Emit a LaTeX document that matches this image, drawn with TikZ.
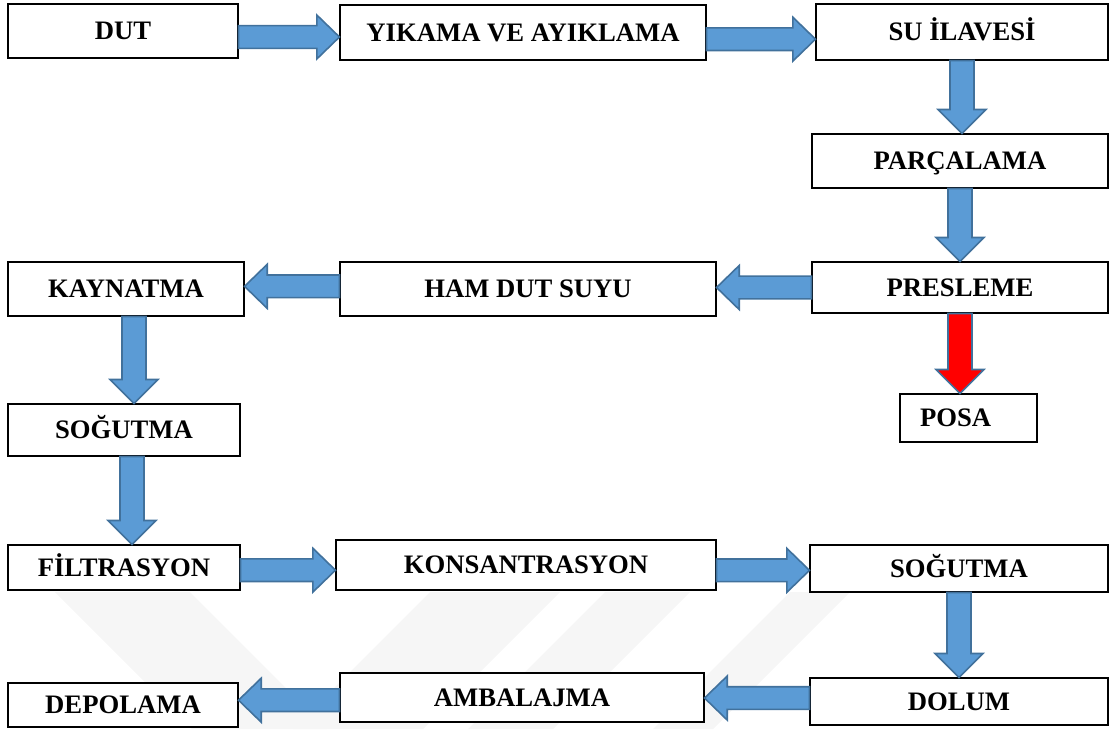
\documentclass[tikz,border=0pt]{standalone}
\usepackage{fontspec}
\setmainfont{Liberation Serif}
\usepackage{tikz}
\usetikzlibrary{calc}

\definecolor{arrowfill}{HTML}{5B9BD5}
\definecolor{arrowline}{HTML}{41719C}

\tikzset{
	stepbox/.style={draw=black, line width=0.8pt, fill=white, font=\bfseries\fontsize{20}{24}\selectfont,
		text height=13.3pt, text depth=0pt, inner sep=2pt},
	barrow/.style={fill=arrowfill, draw=arrowline, line width=1.2pt, line join=miter},
	wmark/.style={fill=black!3.5, draw=none}
}

% horizontal block arrow, y taken from the first point
\newcommand{\harrow}[3][]{%
	\draw[barrow,#1] let \p1=(#2), \p2=(#3), \n1={sign(\x2-\x1)} in
		(\x1,\y1+8.5pt) -- (\x2-\n1*17pt,\y1+8.5pt) -- (\x2-\n1*17pt,\y1+16.5pt) -- (\x2,\y1)
		-- (\x2-\n1*17pt,\y1-16.5pt) -- (\x2-\n1*17pt,\y1-8.5pt) -- (\x1,\y1-8.5pt) -- cycle;}
% vertical block arrow, x taken from the first point
\newcommand{\varrow}[3][]{%
	\draw[barrow,#1] let \p1=(#2), \p2=(#3), \n1={sign(\y2-\y1)} in
		(\x1+9pt,\y1) -- (\x1+9pt,\y2-\n1*18pt) -- (\x1+18pt,\y2-\n1*18pt) -- (\x1,\y2)
		-- (\x1-18pt,\y2-\n1*18pt) -- (\x1-9pt,\y2-\n1*18pt) -- (\x1-9pt,\y1) -- cycle;}

\begin{document}
\begin{tikzpicture}[x=0.75pt, y=-0.75pt]
			\useasboundingbox (0,0) rectangle (1110,729);
			
			% faint watermark
			\fill[wmark] (55,592) -- (190,592) -- (327,729) -- (192,729) -- cycle;
			\fill[wmark] (430,592) -- (560,592) -- (423,729) -- (293,729) -- cycle;
			\fill[wmark] (605,592) -- (690,592) -- (553,729) -- (468,729) -- cycle;
			\fill[wmark] (790,592) -- (850,592) -- (713,729) -- (653,729) -- cycle;
			
			\node[stepbox, minimum width=172.5pt, minimum height=40.5pt] (dut) at (123,31) {DUT};
			\node[stepbox, minimum width=274.5pt, minimum height=41.25pt] (yik) at (523,32.5) {YIKAMA VE AYIKLAMA};
			\node[stepbox, minimum width=219pt, minimum height=42pt] (su) at (962,32) {SU İLAVESİ};
			\node[stepbox, minimum width=222pt, minimum height=40.5pt] (parc) at (960,161) {PARÇALAMA};
			\node[stepbox, minimum width=222pt, minimum height=38.25pt] (pres) at (960,287.5) {PRESLEME};
			\node[stepbox, minimum width=282pt, minimum height=40.5pt] (ham) at (528,289) {HAM DUT SUYU};
			\node[stepbox, minimum width=177pt, minimum height=40.5pt] (kayn) at (126,289) {KAYNATMA};
			\node[stepbox, minimum width=174pt, minimum height=39pt] (sog1) at (124,430) {SOĞUTMA};
			\node[stepbox, minimum width=102.75pt, minimum height=36pt, inner xsep=15pt,
				text width=72.75pt, align=left] (posa) at (968.5,418) {POSA};
			
			\node[stepbox, minimum width=174pt, minimum height=33.75pt] (filt) at (124,567.5) {FİLTRASYON};
			\node[stepbox, minimum width=285pt, minimum height=37.5pt] (kons) at (526,565) {KONSANTRASYON};
			\node[stepbox, minimum width=223.5pt, minimum height=35.25pt] (sog2) at (959,568.5) {SOĞUTMA};
			\node[stepbox, minimum width=172.5pt, minimum height=33pt] (depo) at (123,705) {DEPOLAMA};
			\node[stepbox, minimum width=273pt, minimum height=36.75pt] (amb) at (522,697.5) {AMBALAJMA};
			\node[stepbox, minimum width=223.5pt, minimum height=35.25pt] (dol) at (959,701.5) {DOLUM};
			
			\harrow{[yshift=-4.5pt]dut.east}{yik.west}
			\harrow{[yshift=-5pt]yik.east}{su.west}
			\varrow{su.south}{parc.north}
			\varrow{parc.south}{pres.north}
			\harrow{pres.west}{ham.east}
			\harrow{[yshift=2pt]ham.west}{kayn.east}
			\varrow{[xshift=6pt]kayn.south}{sog1.north}
			\varrow{[xshift=6pt]sog1.south}{filt.north}
			\varrow[fill=red]{pres.south}{posa.north}
			
			\harrow{[yshift=-2pt]filt.east}{kons.west}
			\harrow{[yshift=-4pt]kons.east}{sog2.west}
			\varrow{sog2.south}{dol.north}
			\harrow{[yshift=2.6pt]dol.west}{amb.east}
			\harrow{[yshift=-2pt]amb.west}{depo.east}
		\end{tikzpicture}
\end{document}
